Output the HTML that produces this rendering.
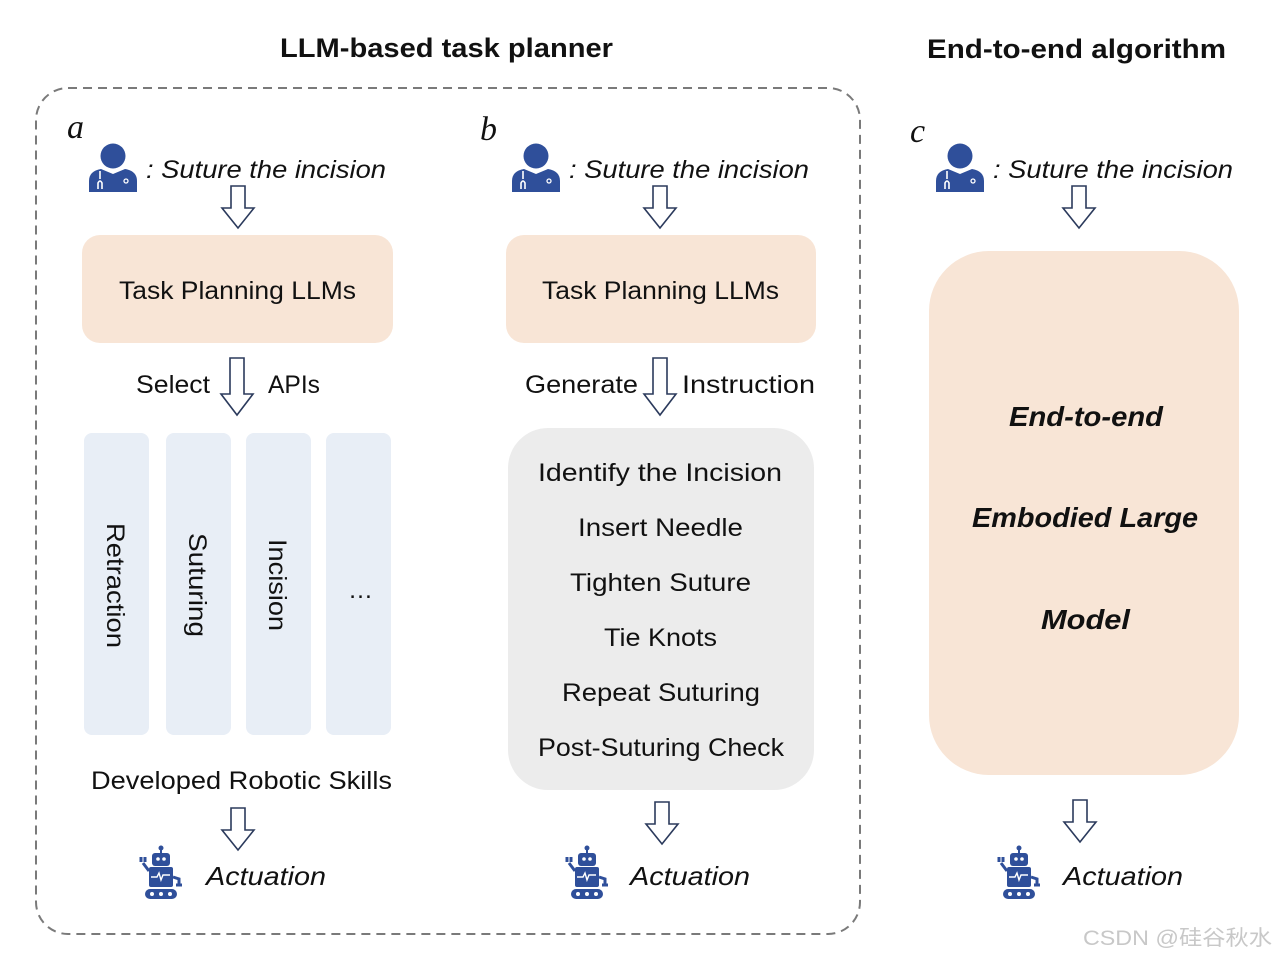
<!DOCTYPE html>
<html><head><meta charset="utf-8"><style>body{margin:0;background:#fff}svg{display:block}text{font-family:"Liberation Sans",sans-serif;fill:#111}</style></head><body>
<svg width="1276" height="958" viewBox="0 0 1276 958" xmlns="http://www.w3.org/2000/svg">
<defs>
<g id="doc">
<circle cx="24" cy="13" r="12.5" fill="#2f4f9a"/>
<path d="M0,49 V38 Q0,28 12,26 L24,31 L36,26 Q48,28 48,38 V49 Z" fill="#2f4f9a"/>
<path d="M11,28 V36 M9,46 V40 Q11,36 13,40 V46" stroke="#fff" stroke-width="1.6" fill="none"/>
<circle cx="37" cy="38" r="2" fill="none" stroke="#fff" stroke-width="1.3"/>
</g>
<g id="bot" fill="#2f4f9a">
<circle cx="22" cy="3" r="2.5"/><rect x="21" y="4" width="2" height="5"/>
<rect x="13" y="8" width="18" height="13" rx="3"/>
<circle cx="19" cy="14" r="1.8" fill="#fff"/><circle cx="25" cy="14" r="1.8" fill="#fff"/>
<rect x="10" y="22" width="24" height="20" rx="2"/>
<path d="M12,32 h6 l2,-4 l2,7 l2,-5 h7" stroke="#fff" stroke-width="1.4" fill="none"/>
<path d="M10,26 L4,18 M2,12 v5 M6,12 v5" stroke="#2f4f9a" stroke-width="3" fill="none"/>
<path d="M34,32 L40,34 V40 M37,40 h6" stroke="#2f4f9a" stroke-width="3" fill="none"/>
<rect x="6" y="44" width="32" height="10" rx="5"/>
<circle cx="13" cy="49" r="2" fill="#fff"/><circle cx="22" cy="49" r="2" fill="#fff"/><circle cx="31" cy="49" r="2" fill="#fff"/>
</g>
</defs>
<g font-weight="bold" font-size="27">
<text x="280" y="57" textLength="333" lengthAdjust="spacingAndGlyphs">LLM-based task planner</text>
<text x="927" y="58" textLength="299" lengthAdjust="spacingAndGlyphs">End-to-end algorithm</text>
</g>
<rect x="36" y="88" width="824" height="846" rx="32" fill="none" stroke="#7a7a7a" stroke-width="2" stroke-dasharray="9,6"/>
<g font-style="italic" font-size="34">
<text x="67" y="138" style="font-family:'Liberation Serif',serif">a</text>
<text x="480" y="140" style="font-family:'Liberation Serif',serif">b</text>
<text x="910" y="142" style="font-family:'Liberation Serif',serif">c</text>
</g>
<use href="#doc" x="89" y="143"/><use href="#doc" x="512" y="143"/><use href="#doc" x="936" y="143"/>
<g font-style="italic" font-size="25">
<text x="146" y="178" textLength="240" lengthAdjust="spacingAndGlyphs">: Suture the incision</text>
<text x="569" y="178" textLength="240" lengthAdjust="spacingAndGlyphs">: Suture the incision</text>
<text x="993" y="178" textLength="240" lengthAdjust="spacingAndGlyphs">: Suture the incision</text>
</g>
<g fill="#fff" stroke="#2b3a5c" stroke-width="1.6">
<path d="M231,186 V208 H222 L238,228 L254,208 H245 V186 Z"/>
<path d="M653,186 V208 H644 L660,228 L676,208 H667 V186 Z"/>
<path d="M1072,186 V208 H1063 L1079,228 L1095,208 H1086 V186 Z"/>
<path d="M231,808 V830 H222 L238,850 L254,830 H245 V808 Z"/>
<path d="M655,802 V824 H646 L662,844 L678,824 H669 V802 Z"/>
<path d="M1073,800 V822 H1064 L1080,842 L1096,822 H1087 V800 Z"/>
<path d="M230,358 V394 H221 L237,415 L253,394 H244 V358 Z"/>
<path d="M653,358 V394 H644 L660,415 L676,394 H667 V358 Z"/>
</g>
<rect x="82" y="235" width="311" height="108" rx="18" fill="#f8e5d6"/>
<rect x="506" y="235" width="310" height="108" rx="18" fill="#f8e5d6"/>
<g font-size="25">
<text x="119" y="299" textLength="237" lengthAdjust="spacingAndGlyphs">Task Planning LLMs</text>
<text x="542" y="299" textLength="237" lengthAdjust="spacingAndGlyphs">Task Planning LLMs</text>
<text x="136" y="393" textLength="74" lengthAdjust="spacingAndGlyphs">Select</text>
<text x="268" y="393" textLength="52" lengthAdjust="spacingAndGlyphs">APIs</text>
<text x="525" y="393" textLength="113" lengthAdjust="spacingAndGlyphs">Generate</text>
<text x="682" y="393" textLength="133" lengthAdjust="spacingAndGlyphs">Instruction</text>
</g>
<g fill="#e8eef6">
<rect x="84" y="433" width="65" height="302" rx="8"/>
<rect x="166" y="433" width="65" height="302" rx="8"/>
<rect x="246" y="433" width="65" height="302" rx="8"/>
<rect x="326" y="433" width="65" height="302" rx="8"/>
</g>
<g font-size="25">
<text transform="translate(107,523) rotate(90)" textLength="125" lengthAdjust="spacingAndGlyphs">Retraction</text>
<text transform="translate(189,533) rotate(90)" textLength="104" lengthAdjust="spacingAndGlyphs">Suturing</text>
<text transform="translate(269,539) rotate(90)" textLength="92" lengthAdjust="spacingAndGlyphs">Incision</text>
<text x="348" y="598">…</text>
<text x="91" y="789" textLength="301" lengthAdjust="spacingAndGlyphs">Developed Robotic Skills</text>
</g>
<rect x="508" y="428" width="306" height="362" rx="40" fill="#ececec"/>
<g font-size="25">
<text x="538" y="481" textLength="244" lengthAdjust="spacingAndGlyphs">Identify the Incision</text>
<text x="578" y="536" textLength="165" lengthAdjust="spacingAndGlyphs">Insert Needle</text>
<text x="570" y="591" textLength="181" lengthAdjust="spacingAndGlyphs">Tighten Suture</text>
<text x="604" y="646" textLength="113" lengthAdjust="spacingAndGlyphs">Tie Knots</text>
<text x="562" y="701" textLength="198" lengthAdjust="spacingAndGlyphs">Repeat Suturing</text>
<text x="538" y="756" textLength="246" lengthAdjust="spacingAndGlyphs">Post-Suturing Check</text>
</g>
<rect x="929" y="251" width="310" height="524" rx="60" fill="#f8e5d6"/>
<g font-size="28" font-weight="bold" font-style="italic">
<text x="1009" y="426" textLength="154" lengthAdjust="spacingAndGlyphs">End-to-end</text>
<text x="972" y="527" textLength="226" lengthAdjust="spacingAndGlyphs">Embodied Large</text>
<text x="1041" y="629" textLength="89" lengthAdjust="spacingAndGlyphs">Model</text>
</g>
<use href="#bot" x="139" y="845"/><use href="#bot" x="565" y="845"/><use href="#bot" x="997" y="845"/>
<g font-style="italic" font-size="26">
<text x="206" y="885" textLength="120" lengthAdjust="spacingAndGlyphs">Actuation</text>
<text x="630" y="885" textLength="120" lengthAdjust="spacingAndGlyphs">Actuation</text>
<text x="1063" y="885" textLength="120" lengthAdjust="spacingAndGlyphs">Actuation</text>
</g>
<text x="1083" y="945" font-size="21" textLength="189" lengthAdjust="spacingAndGlyphs" style="fill:#c8c8c8;font-family:'Liberation Sans','Noto Sans CJK SC',sans-serif">CSDN @硅谷秋水</text>
</svg>
</body></html>
